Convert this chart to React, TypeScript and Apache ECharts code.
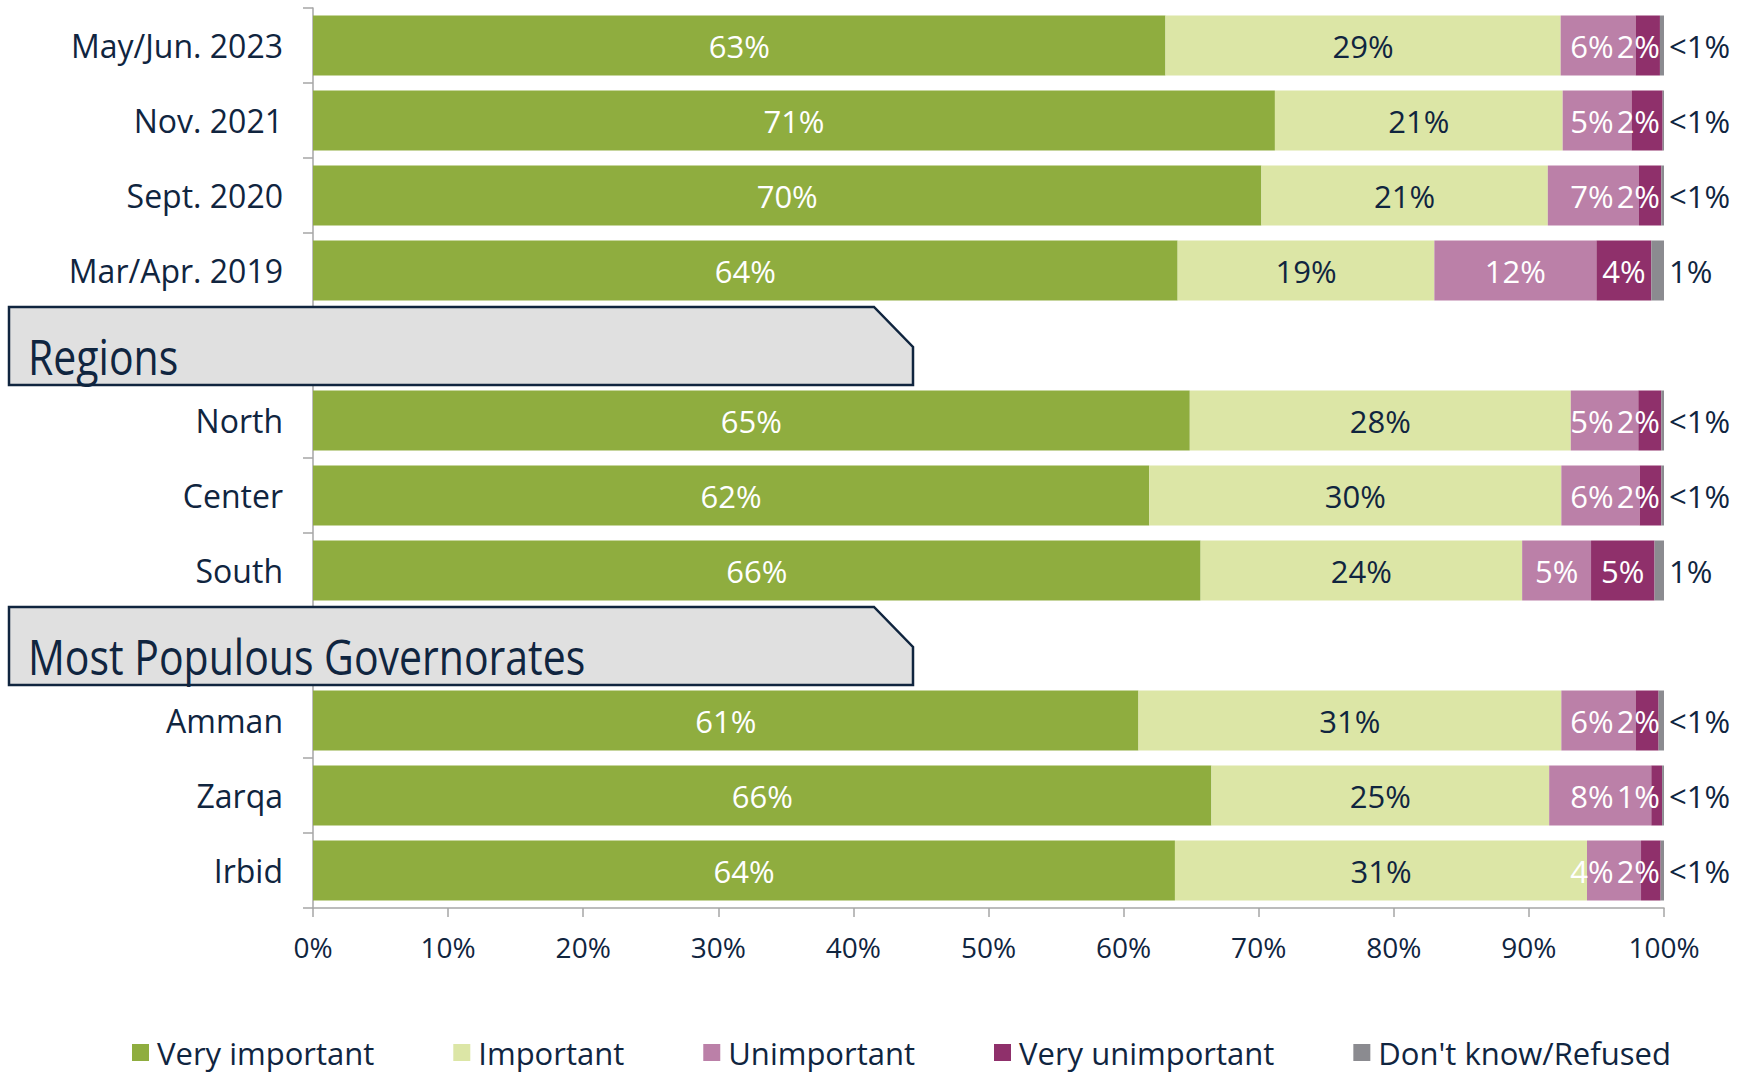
import React, { useEffect, useRef } from 'react';
import * as echarts from 'echarts';

const categories = ['May/Jun. 2023', 'Nov. 2021', 'Sept. 2020', 'Mar/Apr. 2019', '#regions', 'North', 'Center', 'South', '#governorates', 'Amman', 'Zarqa', 'Irbid'];
const sectionTitles: Record<string, string> = { '#regions': 'Regions', '#governorates': 'Most Populous Governorates' };
const seriesNames = ['Very important', 'Important', 'Unimportant', 'Very unimportant', "Don't know/Refused"];
const seriesColors = ['#8fad3f', '#dce6a6', '#bb80a8', '#8f306b', '#8b8b90'];

const veryImportant = [63.1, 71.2, 70.2, 64.0, null, 64.9, 61.9, 65.7, null, 61.1, 66.5, 63.8];
const important = [29.25, 21.3, 21.2, 19.0, null, 28.2, 30.5, 23.8, null, 31.3, 25.0, 30.5];
const unimportant = [5.55, 5.1, 6.75, 12.0, null, 5.0, 5.8, 5.1, null, 5.5, 7.56, 4.0];
const veryUnimportant = [1.8, 2.3, 1.65, 4.06, null, 1.7, 1.6, 4.7, null, 1.7, 0.8, 1.45];
const dontKnow = [0.3, 0.1, 0.2, 0.94, null, 0.2, 0.2, 0.7, null, 0.4, 0.14, 0.25];

const veryImportantLabels = ['63%', '71%', '70%', '64%', '', '65%', '62%', '66%', '', '61%', '66%', '64%'];
const importantLabels = ['29%', '21%', '21%', '19%', '', '28%', '30%', '24%', '', '31%', '25%', '31%'];
const unimportantLabels = ['6%', '5%', '7%', '12%', '', '5%', '6%', '5%', '', '6%', '8%', '4%'];
const veryUnimportantLabels = ['2%', '2%', '2%', '4%', '', '2%', '2%', '5%', '', '2%', '1%', '2%'];
const dontKnowLabels = ['<1%', '<1%', '<1%', '1%', '', '<1%', '<1%', '1%', '', '<1%', '<1%', '<1%'];

const allValues = [veryImportant, important, unimportant, veryUnimportant, dontKnow];
const allLabels = [veryImportantLabels, importantLabels, unimportantLabels, veryUnimportantLabels, dontKnowLabels];

const NAVY = '#10253f';
const AXIS_GRAY = '#a6a6a6';
const FONT = "'Open Sans', 'Noto Sans', sans-serif";

const GRID_LEFT = 313;
const GRID_RIGHT = 81;
const GRID_TOP = 8;
const GRID_BOTTOM = 164;
const GRID_W = 1745 - GRID_LEFT - GRID_RIGHT;
const LABEL_FS = 31;

function textW(s: string) {
  let w = 0;
  for (const ch of s) {
    if (ch === '%') w += 0.83;
    else w += 0.57;
  }
  return w * LABEL_FS;
}

// horizontal label shifts so labels of narrow segments stay inside the bar end
function labelShifts() {
  const px = GRID_W / 100;
  const pink: number[] = [];
  const purple: number[] = [];
  for (let i = 0; i < categories.length; i++) {
    const v0 = veryImportant[i], v1 = important[i], v2 = unimportant[i], v3 = veryUnimportant[i], v4 = dontKnow[i];
    if (v0 == null || v1 == null || v2 == null || v3 == null || v4 == null) {
      pink.push(0); purple.push(0); continue;
    }
    const s2 = v0 + v1, e2 = s2 + v2, e3 = e2 + v3, tot = e3 + v4;
    const w3 = textW(veryUnimportantLabels[i]);
    const w2 = textW(unimportantLabels[i]);
    const seg3 = ((e2 + e3) / 2) * px;
    const c3 = Math.min(seg3, tot * px - 4 - w3 / 2);
    const seg2 = ((s2 + e2) / 2) * px;
    const c2 = Math.min(seg2, c3 - w3 / 2 - 3 - w2 / 2);
    pink.push(c2 - seg2);
    purple.push(c3 - seg3);
  }
  return { pink, purple };
}

export default function App() {
  const ref = useRef<HTMLDivElement>(null);
  useEffect(() => {
    if (!ref.current) return;
    const chart = echarts.init(ref.current, undefined, { renderer: 'svg' });
    const shifts = labelShifts();
    const labelColors = ['#ffffff', NAVY, '#ffffff', '#ffffff', NAVY];

    const series = seriesNames.map((name, k) => ({
      name,
      type: 'bar',
      stack: 'total',
      barWidth: 60,
      itemStyle: { color: seriesColors[k] },
      label: {
        show: true,
        position: k === 4 ? 'right' : 'inside',
        distance: 5,
        color: labelColors[k],
        fontSize: LABEL_FS,
        fontFamily: FONT,
        formatter: (p: any) => allLabels[k][p.dataIndex],
      },
      data: allValues[k].map((v, i) => {
        if (v == null) return null;
        let dx = 0;
        if (k === 2) dx = shifts.pink[i];
        if (k === 3) dx = shifts.purple[i];
        return { value: v, label: { offset: [dx, 0] } };
      }),
    }));

    chart.setOption({
      animation: false,
      backgroundColor: '#ffffff',
      grid: { left: GRID_LEFT, right: GRID_RIGHT, top: GRID_TOP, bottom: GRID_BOTTOM, containLabel: false },
      legend: {
        data: seriesNames,
        left: 127,
        top: 1032,
        icon: 'rect',
        itemWidth: 17,
        itemHeight: 17,
        itemGap: 79,
        textStyle: { color: NAVY, fontSize: 31, fontFamily: FONT, padding: [0, 0, 0, 3] },
        selectedMode: false,
      },
      xAxis: {
        type: 'value',
        min: 0,
        max: 100,
        interval: 10,
        axisLine: { show: true, lineStyle: { color: AXIS_GRAY, width: 1.5 } },
        axisTick: { show: true, length: 9, lineStyle: { color: AXIS_GRAY, width: 1.5 } },
        splitLine: { show: false },
        axisLabel: { color: NAVY, fontSize: 28, fontFamily: FONT, margin: 25, formatter: '{value}%' },
      },
      yAxis: {
        type: 'category',
        inverse: true,
        data: categories,
        axisLine: { show: true, lineStyle: { color: AXIS_GRAY, width: 1.5 } },
        axisTick: { show: true, length: 10, interval: 0, lineStyle: { color: AXIS_GRAY, width: 1.5 } },
        axisLabel: {
          color: NAVY,
          fontSize: 32,
          fontFamily: FONT,
          margin: 30,
          interval: 0,
          formatter: (v: string) => (v.startsWith('#') ? '' : v),
        },
      },
      series,
    });

    const graphics: any[] = [];
    categories.forEach((c, i) => {
      if (!c.startsWith('#')) return;
      const cy = chart.convertToPixel({ yAxisIndex: 0 }, i) as number;
      const T = cy - 37.5;
      graphics.push({
        type: 'polygon',
        z: 100,
        shape: { points: [[9, T - 1], [874, T - 1], [913, T + 39], [913, T + 77], [9, T + 77]] },
        style: { fill: '#e0e0e0', stroke: NAVY, lineWidth: 2.5 },
      });
      graphics.push({
        type: 'text',
        z: 101,
        x: 28,
        y: cy + 10,
        scaleY: 1.2,
        style: {
          text: sectionTitles[c],
          x: 0,
          y: 0,
          fill: NAVY,
          fontSize: 41,
          fontFamily: FONT,
          verticalAlign: 'middle',
          align: 'left',
        },
      });
    });
    chart.setOption({ graphic: graphics });

    return () => chart.dispose();
  }, []);
  return <div ref={ref} style={{ position: 'fixed', left: 0, top: 0, width: 1745, height: 1072, background: '#fff' }} />;
}
